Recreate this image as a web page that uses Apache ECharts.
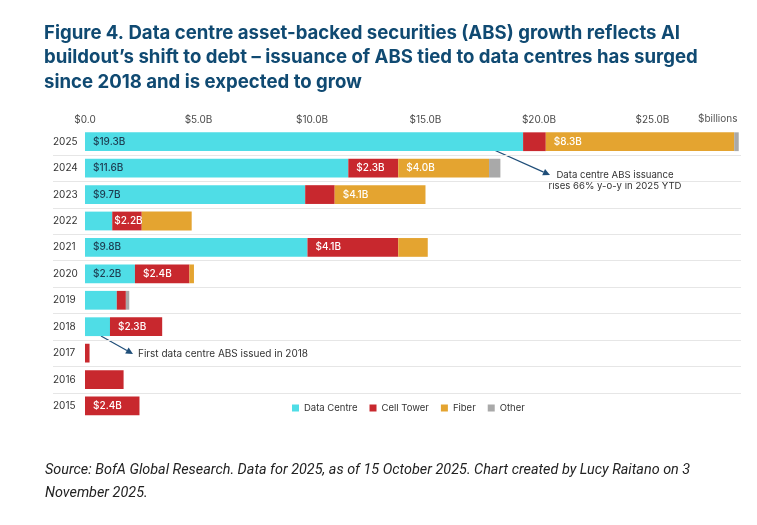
<!DOCTYPE html>
<html>
<head>
    <meta charset="utf-8">
    <title>Data centre ABS growth</title>
    <style>
        html, body { margin: 0; padding: 0; background: #fff; }
        #main { width: 757px; height: 525px; }
    </style>
</head>
<body>
<div id="main"></div>
<script src="https://cdn.jsdelivr.net/npm/echarts@6/dist/echarts.min.js"></script>
<script>
// categories, bottom to top
var years = ['2015', '2016', '2017', '2018', '2019', '2020', '2021', '2022', '2023', '2024', '2025'];

// issuance, $ billions
var dataCentre = [0, 0, 0, 1.1, 1.4, 2.2, 9.8, 1.2, 9.7, 11.6, 19.3];
var cellTower  = [2.4, 1.7, 0.2, 2.3, 0.4, 2.4, 4.0, 1.3, 1.3, 2.2, 1.0];
var fiber      = [0, 0, 0, 0, 0, 0.2, 1.3, 2.2, 4.0, 4.0, 8.3];
var other      = [0, 0, 0, 0, 0.15, 0, 0, 0, 0, 0.5, 0.2];

// printed labels on the segments
var dataCentreLabels = ['', '', '', '', '', '$2.2B', '$9.8B', '', '$9.7B', '$11.6B', '$19.3B'];
var cellTowerLabels  = ['$2.4B', '', '', '$2.3B', '', '$2.4B', '$4.1B', '$2.2B', '', '$2.3B', ''];
var fiberLabels      = ['', '', '', '', '', '', '', '', '$4.1B', '$4.0B', '$8.3B'];

var xTicks = [0, 5, 10, 15, 20, 25];

var COLORS = {
    dc: '#4fdde6',
    ct: '#c8282e',
    fb: '#e4a430',
    ot: '#a9a9a9'
};

var chart = echarts.init(document.getElementById('main'));

function makeData(values, labels, textColor) {
    return values.map(function (v, i) {
        var txt = labels ? labels[i] : '';
        return {
            value: v,
            label: {
                show: !!txt,
                formatter: txt,
                position: 'insideLeft',
                // narrow segments get their label tucked against the left edge
                distance: v < 1.76 ? 2 : 8,
                color: textColor,
                fontFamily: 'Inter',
                fontSize: 10,
                fontWeight: 500
            }
        };
    });
}

function barSeries(name, values, labels, color, textColor) {
    return {
        name: name,
        type: 'bar',
        stack: 'abs',
        barCategoryGap: '29%',
        itemStyle: { color: color },
        emphasis: { disabled: true },
        data: makeData(values, labels, textColor)
    };
}

// straight arrow with a filled head
function arrow(x1, y1, x2, y2, color) {
    var dx = x2 - x1, dy = y2 - y1;
    var len = Math.sqrt(dx * dx + dy * dy);
    var ux = dx / len, uy = dy / len;
    var hl = 7, hw = 3.5;
    var bx = x2 - ux * hl, by = y2 - uy * hl;
    return [
        {
            type: 'line',
            shape: { x1: x1, y1: y1, x2: bx, y2: by },
            style: { stroke: color, lineWidth: 1.2 }
        },
        {
            type: 'polygon',
            shape: { points: [[x2, y2], [bx - uy * hw, by + ux * hw], [bx + uy * hw, by - ux * hw]] },
            style: { fill: color }
        }
    ];
}

var navy = '#1f4e79';
var graphics = [
    {
        type: 'text',
        left: 698, top: 114,
        style: { text: '$billions', fill: '#555', font: '10px Inter' }
    },
    {
        type: 'text',
        x: 615, y: 180.5,
        style: {
            text: 'Data centre ABS issuance\nrises 66% y-o-y in 2025 YTD',
            fill: '#333', font: '9.6px Inter', align: 'center', verticalAlign: 'middle', lineHeight: 11.5
        }
    },
    {
        type: 'text',
        x: 138, y: 354,
        style: {
            text: 'First data centre ABS issued in 2018',
            fill: '#333', font: '10px Inter', align: 'left', verticalAlign: 'middle'
        }
    }
].concat(arrow(493, 149.5, 550, 175, navy), arrow(101, 336, 133, 354, navy));

var option = {
    backgroundColor: '#fff',
    animation: false,
    title: [
        {
            text: 'Figure 4. Data centre asset-backed securities (ABS) growth reflects AI\n' +
                  'buildout\u2019s shift to debt \u2013 issuance of ABS tied to data centres has surged\n' +
                  'since 2018 and is expected to grow',
            left: 44,
            top: 21,
            padding: 0,
            textStyle: {
                fontFamily: 'Inter',
                fontWeight: 700,
                fontSize: 18.6,
                lineHeight: 24.5,
                color: '#104a72'
            }
        },
        {
            text: 'Source: BofA Global Research. Data for 2025, as of 15 October 2025. Chart created by Lucy Raitano on 3\n' +
                  'November 2025.',
            left: 45,
            top: 459,
            padding: 0,
            textStyle: {
                fontFamily: 'Roboto',
                fontStyle: 'italic',
                fontWeight: 'normal',
                fontSize: 14.4,
                lineHeight: 23,
                color: '#222'
            }
        }
    ],
    legend: {
        left: 292,
        top: 403,
        padding: 0,
        itemWidth: 7,
        itemHeight: 7,
        itemGap: 12,
        icon: 'rect',
        textStyle: { fontFamily: 'Inter', fontSize: 9.5, color: '#333' },
        data: ['Data Centre', 'Cell Tower', 'Fiber', 'Other']
    },
    grid: {
        left: 53,
        right: 16,
        top: 128.5,
        bottom: 105.8,
        containLabel: false
    },
    xAxis: {
        type: 'value',
        position: 'top',
        min: -1.41,
        max: 28.9,
        axisLine: { show: false },
        axisTick: { show: false },
        splitLine: { show: false },
        axisLabel: {
            customValues: xTicks,
            margin: 4,
            fontFamily: 'Inter',
            fontSize: 10,
            color: '#4a4a4a',
            formatter: function (v) {
                return v === 0 ? '$0.0' : '$' + v.toFixed(1) + 'B';
            }
        }
    },
    yAxis: {
        type: 'category',
        data: years,
        axisLine: { show: false },
        axisTick: { show: false },
        splitLine: {
            show: true,
            showMinLine: false,
            showMaxLine: false,
            lineStyle: { color: '#e6e6e6', width: 1 }
        },
        axisLabel: {
            inside: true,
            margin: 0,
            fontFamily: 'Inter',
            fontSize: 10,
            color: '#333'
        }
    },
    series: [
        barSeries('Data Centre', dataCentre, dataCentreLabels, COLORS.dc, '#1d3b50'),
        barSeries('Cell Tower', cellTower, cellTowerLabels, COLORS.ct, '#fff'),
        barSeries('Fiber', fiber, fiberLabels, COLORS.fb, '#fff'),
        barSeries('Other', other, null, COLORS.ot, '#fff')
    ],
    graphic: graphics
};

chart.setOption(option);
</script>
</body>
</html>
